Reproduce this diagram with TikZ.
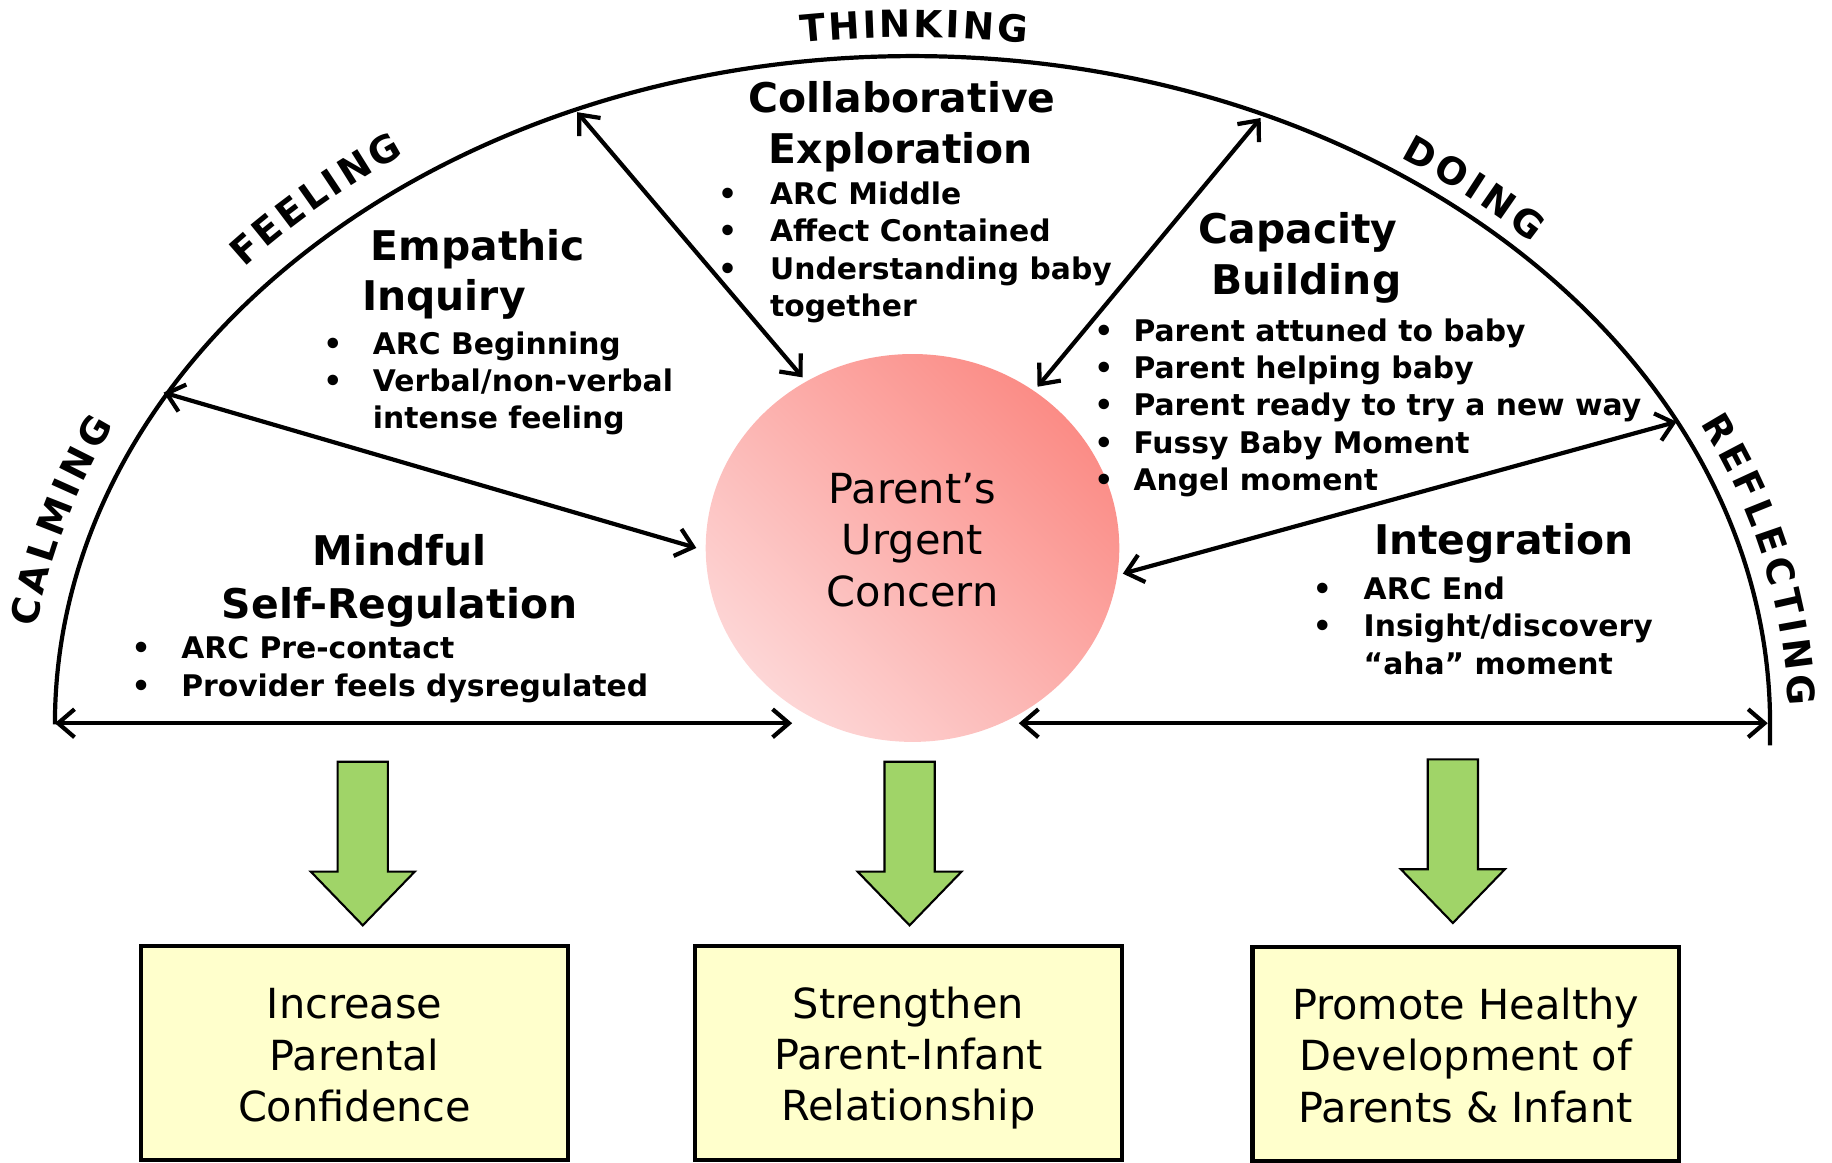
\documentclass[tikz,border=0pt]{standalone}
\usepackage{fontspec}
\setmainfont{DejaVu Sans}
\usetikzlibrary{arrows.meta,shapes.geometric,decorations.text}

\definecolor{arrowgreen}{RGB}{160,212,104}
\definecolor{boxyellow}{RGB}{255,255,204}
\definecolor{concerndark}{RGB}{251,140,134}
\definecolor{concernlight}{RGB}{253,214,214}

\newcommand\titlefont{\fontsize{35}{44}\selectfont\bfseries}
\newcommand\itemfont{\fontsize{25.5}{32}\selectfont\bfseries}
\newcommand\bodyfont{\fontsize{35.5}{44}\selectfont}
\newcommand\arcfont{\fontsize{32}{38}\selectfont\bfseries}
% bullet set in a box of the given width, followed by the item text
\newcommand\bitem[2]{\makebox[#1][l]{\textbullet}#2}

\tikzset{
  rim/.style={line width=3.6pt},
  link/.style={line width=3.6pt,
    {Straight Barb[length=14pt,width=24pt]}-{Straight Barb[length=14pt,width=24pt]}},
  heading/.style={anchor=base,inner sep=0pt,font=\titlefont},
  itemlist/.style={anchor=base west,inner sep=0pt,font=\itemfont},
  outcome/.style={draw,line width=3.5pt,fill=boxyellow,minimum width=365pt,
    minimum height=183pt,inner sep=0pt,font=\bodyfont},
  arclabel/.style={decorate,decoration={text along path,
    text={|\arcfont|#1},text align=fit to path}},
  greenarrow/.pic={
    \draw[line width=1.8pt,fill=arrowgreen,line join=miter]
      (-21.5,0) -- (21.5,0) -- (21.5,-94) -- (44.5,-94) -- (0,-140)
      -- (-44.5,-94) -- (-21.5,-94) -- cycle;}
}

\begin{document}
\begin{tikzpicture}[x=1pt,y=1pt]
\useasboundingbox (0,0) rectangle (1568,-995);

% half-ellipse rim
\draw[rim] (47,-620) arc[start angle=180,end angle=0,x radius=734pt,y radius=572pt]
  -- (1515,-638);

% labels set along the rim
\path[arclabel=CALMING] ([shift={(781,-620)}]172:757pt and 595pt)
  arc[start angle=172,end angle=154.5,x radius=757pt,y radius=595pt];
\path[arclabel=FEELING] ([shift={(781,-620)}]139:758pt and 596pt)
  arc[start angle=139,end angle=125,x radius=758pt,y radius=596pt];
\path[arclabel=THINKING] ([shift={(781,-620)}]97.3:750pt and 588pt)
  arc[start angle=97.3,end angle=82.5,x radius=750pt,y radius=588pt];
\path[arclabel=DOING] ([shift={(781,-620)}]56:747pt and 585pt)
  arc[start angle=56,end angle=44.8,x radius=747pt,y radius=585pt];
\path[arclabel=REFLECTING] ([shift={(781,-620)}]26:750pt and 588pt)
  arc[start angle=26,end angle=1.5,x radius=750pt,y radius=588pt];

% central concern
\node[ellipse,minimum width=354pt,minimum height=332pt,inner sep=0pt,
  top color=concerndark,bottom color=concernlight,shading angle=-45,
  font=\bodyfont] (concern) at (781,-469)
  {\begin{tabular}{c}Parent’s\\Urgent\\Concern\rule[-19pt]{0pt}{19pt}\end{tabular}};

% rim anchor points and arrow ends
\coordinate (pL) at (47,-619);      \coordinate (qL) at (678,-619);
\coordinate (pR) at (1513,-619);    \coordinate (qR) at (872,-619);
\coordinate (pFeel) at (140,-336);  \coordinate (qFeel) at (596,-469);
\coordinate (pThink) at (494,-96);  \coordinate (qThink) at (687,-323);
\coordinate (pDo) at (1079,-101);   \coordinate (qDo) at (888,-331);
\coordinate (pRefl) at (1435,-361); \coordinate (qRefl) at (961,-491);

\draw[link] (pL) -- (qL);
\draw[link] (qR) -- (pR);
\draw[link] (pFeel) -- (qFeel);
\draw[link] (pThink) -- (qThink);
\draw[link] (pDo) -- (qDo);
\draw[link] (qRefl) -- (pRefl);

% section headings
\node[heading] (collab1) at (772,-96) {Collaborative};
\node[heading] (collab2) at (771,-140) {Exploration};
\node[heading] (emp1) at (409,-223) {Empathic};
\node[heading] (emp2) at (380,-266) {Inquiry};
\node[heading] (cap1) at (1111,-208) {Capacity};
\node[heading] (cap2) at (1118,-252) {Building};
\node[heading] (mind1) at (342,-484) {Mindful};
\node[heading] (mind2) at (342,-529) {Self-Regulation};
\node[heading] (integ) at (1287,-475) {Integration};

% bullet lists
\node[itemlist] (collabitems) at (614.5,-175) {\begin{tabular}[t]{@{}l@{}}
  \bitem{44.5pt}{ARC Middle}\\
  \bitem{44.5pt}{Affect Contained}\\
  \bitem{44.5pt}{Understanding baby}\\
  \hspace*{44.5pt}together\end{tabular}};
\node[itemlist] (empitems) at (276.5,-303) {\begin{tabular}[t]{@{}l@{}}
  \bitem{42.5pt}{ARC Beginning}\\
  \bitem{42.5pt}{Verbal/non-verbal}\\
  \hspace*{42.5pt}intense feeling\end{tabular}};
\node[itemlist] (capitems) at (936.5,-292) {\begin{tabular}[t]{@{}l@{}}
  \bitem{33.5pt}{Parent attuned to baby}\\
  \bitem{33.5pt}{Parent helping baby}\\
  \bitem{33.5pt}{Parent ready to try a new way}\\
  \bitem{33.5pt}{Fussy Baby Moment}\\
  \bitem{33.5pt}{Angel moment}\end{tabular}};
\node[itemlist] (minditems) at (112.5,-564) {\begin{tabular}[t]{@{}l@{}}
  \bitem{42.5pt}{ARC Pre-contact}\\
  \bitem{42.5pt}{Provider feels dysregulated}\end{tabular}};
\node[itemlist] (integitems) at (1123.5,-513) {\begin{tabular}[t]{@{}l@{}}
  \bitem{43.5pt}{ARC End}\\
  \bitem{43.5pt}{Insight/discovery}\\
  \hspace*{43.5pt}“aha” moment\end{tabular}};

% block arrows toward the outcomes
\pic at (310.5,-652) {greenarrow};
\pic at (778.5,-652) {greenarrow};
\pic at (1243.5,-650) {greenarrow};

% outcome boxes
\node[outcome] (confidence) at (303.5,-901.5) {\begin{tabular}{c}
  \rule{0pt}{42pt}Increase\\Parental\\Confidence\end{tabular}};
\node[outcome] (relationship) at (777.5,-901) {\begin{tabular}{c}
  \rule{0pt}{42pt}Strengthen\\Parent-Infant\\Relationship\end{tabular}};
\node[outcome] (development) at (1254.5,-902) {\begin{tabular}{c}
  \rule{0pt}{42pt}Promote Healthy\\Development of\\Parents \& Infant\end{tabular}};
\end{tikzpicture}
\end{document}
